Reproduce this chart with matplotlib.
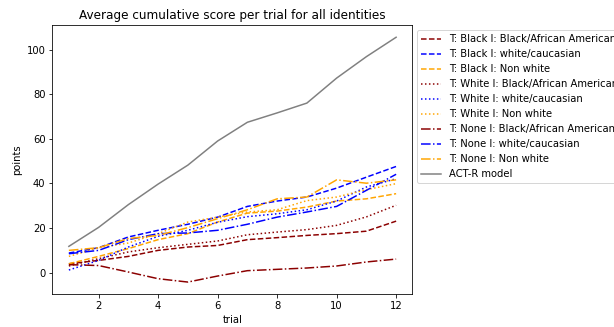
import matplotlib
matplotlib.use("Agg")
import matplotlib.pyplot as plt

# ─── Data ─────────────────────────────────────────────────────────────────────

trials = [1, 2, 3, 4, 5, 6, 7, 8, 9, 10, 11, 12]

# T: Black
black_black = [4.0, 5.5, 7.3, 10.0, 11.5, 12.2, 14.8, 15.7, 16.7, 17.5, 18.6, 23.1]
black_white = [8.8, 11.2, 16.0, 19.0, 21.7, 24.9, 29.7, 32.1, 33.9, 37.9, 42.8, 47.6]
black_nonwhite = [4.0, 7.3, 10.8, 14.8, 17.5, 22.7, 26.7, 27.6, 29.4, 32.1, 33.1, 35.4]

# T: White
white_black = [3.0, 6.3, 9.3, 11.2, 12.7, 14.2, 17.0, 18.2, 19.3, 21.2, 25.0, 30.2]
white_white = [1.2, 5.5, 11.5, 16.3, 19.0, 22.6, 25.1, 26.4, 28.2, 32.1, 38.4, 42.1]
white_nonwhite = [7.3, 11.2, 13.3, 17.5, 22.7, 24.9, 27.2, 28.2, 32.3, 33.9, 37.2, 39.9]

# T: None
none_black = [3.6, 3.2, 0.3, -2.7, -4.2, -1.5, 0.9, 1.5, 2.1, 3.0, 4.8, 6.1]
none_white = [8.5, 10.0, 14.8, 17.5, 17.8, 19.0, 21.7, 24.9, 27.2, 29.7, 36.9, 44.1]
none_nonwhite = [10.0, 11.2, 15.3, 16.7, 20.2, 24.2, 28.2, 33.1, 33.9, 41.6, 40.1, 41.6]

actr = [11.8, 20.3, 30.5, 39.7, 48.2, 59.0, 67.4, 71.6, 76.0, 87.2, 96.8, 105.5]

series = [
    ("T: Black I: Black/African American", black_black, "darkred", "--"),
    ("T: Black I: white/caucasian", black_white, "blue", "--"),
    ("T: Black I: Non white", black_nonwhite, "orange", "--"),
    ("T: White I: Black/African American", white_black, "darkred", ":"),
    ("T: White I: white/caucasian", white_white, "blue", ":"),
    ("T: White I: Non white", white_nonwhite, "orange", ":"),
    ("T: None I: Black/African American", none_black, "darkred", "-."),
    ("T: None I: white/caucasian", none_white, "blue", "-."),
    ("T: None I: Non white", none_nonwhite, "orange", "-."),
]

# ─── Plot ─────────────────────────────────────────────────────────────────────

# the reference was rendered at 72 dpi, so keep default point sizes at 1pt = 1px
DPI = 72
fig = plt.figure(figsize=(614 / DPI, 327 / DPI), dpi=DPI)
ax = fig.add_axes([0.0855, 0.1, 0.5863, 0.8235])

for label, values, color, style in series:
    ax.plot(trials, values, linestyle=style, color=color, label=label)
ax.plot(trials, actr, color="grey", label="ACT-R model")

ax.set_title("Average cumulative score per trial for all identities")
ax.set_xlabel("trial")
ax.set_ylabel("points")
ax.legend(loc="upper left", bbox_to_anchor=(1.0, 1.0))

fig.savefig("out.png", dpi=DPI)
